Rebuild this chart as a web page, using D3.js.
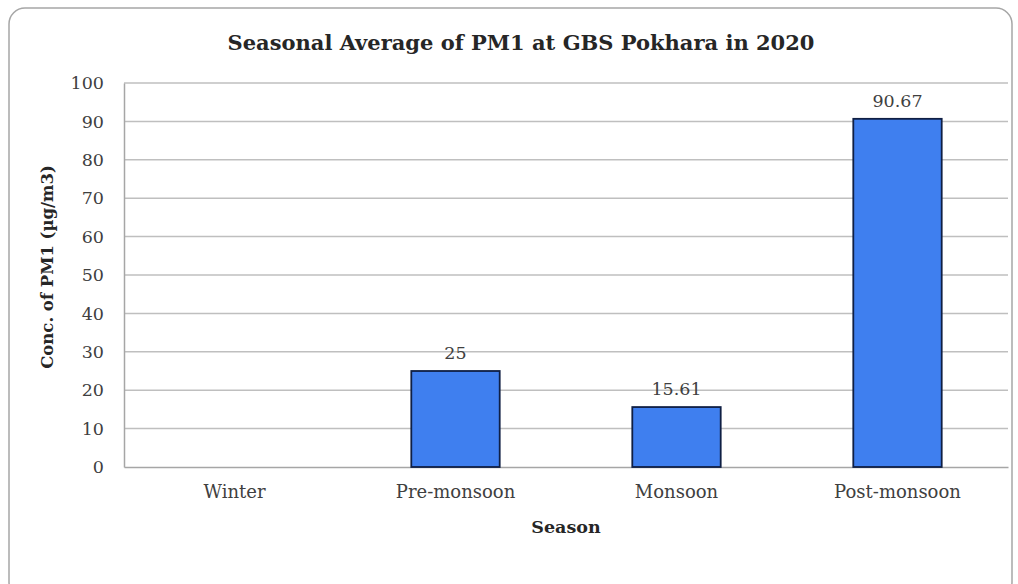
<!DOCTYPE html>
<html>
<head>
<meta charset="utf-8">
<script src="https://cdn.jsdelivr.net/npm/d3@7"></script>
<style>
  html, body { margin: 0; padding: 0; background: #fff; }
  svg { display: block; }
</style>
</head>
<body>
<svg id="chart" width="1018" height="584"></svg>
<script>
const categories = ["Winter", "Pre-monsoon", "Monsoon", "Post-monsoon"];
const values = [null, 25, 15.61, 90.67];
const valueLabels = ["", "25", "15.61", "90.67"];
const yTicks = [0, 10, 20, 30, 40, 50, 60, 70, 80, 90, 100];
const titleText = "Seasonal Average of PM1 at GBS Pokhara in 2020";
const xTitle = "Season";
const yTitle = "Conc. of PM1 (µg/m3)";

const svg = d3.select("#chart");
const m = { left: 124, right: 1008, top: 83, bottom: 467 };
const serif = "'DejaVu Serif', serif";

// outer rounded border
svg.append("rect")
  .attr("x", 9).attr("y", 8).attr("width", 1003).attr("height", 590)
  .attr("rx", 16).attr("ry", 16)
  .attr("fill", "#fff").attr("stroke", "#a6a6a6").attr("stroke-width", 1.5);

const x = d3.scaleBand().domain(categories).range([m.left, m.right])
  .paddingInner(0.6).paddingOuter(0.3);
const y = d3.scaleLinear().domain([0, 100]).range([m.bottom, m.top]);

// gridlines
svg.append("g").selectAll("line").data(yTicks.filter(d => d > 0)).join("line")
  .attr("x1", m.left).attr("x2", m.right)
  .attr("y1", d => y(d)).attr("y2", d => y(d))
  .attr("stroke", "#bfbfbf").attr("stroke-width", 1.5);

// y axis
const yAxis = svg.append("g").attr("transform", `translate(${m.left},0)`)
  .call(d3.axisLeft(y).tickValues(yTicks).tickSize(0).tickPadding(20));
yAxis.select(".domain").attr("stroke", "#a6a6a6").attr("stroke-width", 1.5);
yAxis.selectAll("text").attr("font-family", serif).attr("font-size", 17.5)
  .attr("fill", "#404040");

// x axis
const xAxis = svg.append("g").attr("transform", `translate(0,${m.bottom})`)
  .call(d3.axisBottom(x).tickSize(0).tickPadding(18));
xAxis.select(".domain").attr("stroke", "#a6a6a6").attr("stroke-width", 1.5);
xAxis.selectAll("text").attr("font-family", serif).attr("font-size", 18)
  .attr("fill", "#404040");

// bars
const data = categories.map((c, i) => ({ c, v: values[i], label: valueLabels[i] }))
  .filter(d => d.v != null);
svg.append("g").selectAll("rect").data(data).join("rect")
  .attr("x", d => x(d.c)).attr("width", x.bandwidth())
  .attr("y", d => y(d.v)).attr("height", d => y(0) - y(d.v))
  .attr("fill", "#3f7fef").attr("stroke", "#0f1f44").attr("stroke-width", 1.8);

// value labels
svg.append("g").selectAll("text").data(data).join("text")
  .attr("x", d => x(d.c) + x.bandwidth() / 2)
  .attr("y", d => y(d.v) - 12)
  .attr("text-anchor", "middle")
  .attr("font-family", serif).attr("font-size", 17.5).attr("fill", "#404040")
  .text(d => d.label);

// title
svg.append("text").attr("x", 521).attr("y", 50).attr("text-anchor", "middle")
  .attr("font-family", serif).attr("font-weight", "bold").attr("font-size", 21)
  .attr("fill", "#262626").text(titleText);

// axis titles
svg.append("text").attr("x", (m.left + m.right) / 2).attr("y", 533)
  .attr("text-anchor", "middle")
  .attr("font-family", serif).attr("font-weight", "bold").attr("font-size", 17.5)
  .attr("fill", "#262626").text(xTitle);

svg.append("text").attr("transform", "translate(53,267) rotate(-90)")
  .attr("text-anchor", "middle")
  .attr("font-family", serif).attr("font-weight", "bold").attr("font-size", 16.5)
  .attr("fill", "#262626").text(yTitle);
</script>
</body>
</html>
